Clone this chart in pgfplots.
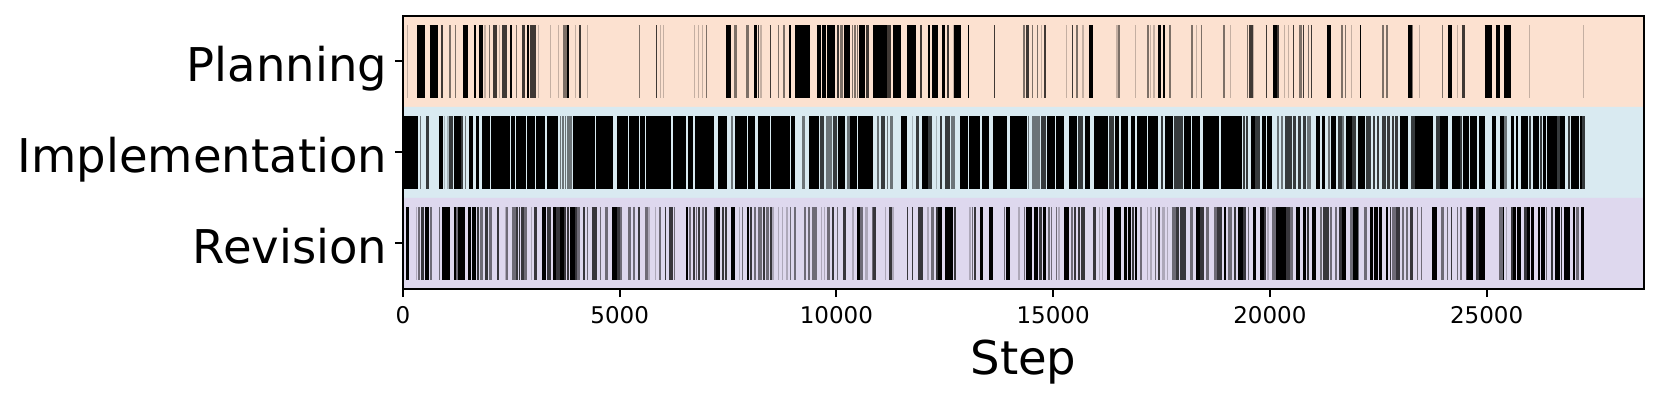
\documentclass[border=0pt]{standalone}
\usepackage{pgfplots}
\usepackage{pgfplotstable}
\usepackage{fontspec}
\setmainfont{DejaVu Sans}
\pgfplotsset{compat=1.18}
\definecolor{pl}{RGB}{252,225,208}
\definecolor{im}{RGB}{217,234,241}
\definecolor{re}{RGB}{222,216,238}
% columns: first step of a run, length of the run in steps, darkness class (4 black ... 1 faint)
\pgfplotstableread{
s w c
93 15 1
331 177 4
615 200 4
869 54 3
1069 38 2
1192 23 2
1377 123 4
1631 46 4
1761 77 4
1877 31 1
1977 31 2
2077 92 3
2207 31 1
2292 108 3
2476 46 4
2599 15 2
2738 77 3
2861 54 4
2922 146 3
3107 23 1
3399 15 1
3584 15 1
3691 85 2
3776 54 4
3961 23 1
4068 38 3
4253 23 1
5437 23 2
5845 15 3
5937 23 1
6006 23 1
6721 15 1
6814 15 1
6906 23 1
6990 15 2
7452 123 4
7644 54 2
7921 62 2
8106 69 4
8190 31 3
8236 38 1
8459 23 3
8644 23 2
8767 38 2
8913 38 4
9051 338 4
9544 100 4
9667 92 4
9775 200 4
10013 46 3
10090 54 2
10182 131 4
10367 23 2
10413 31 2
10467 38 2
10528 131 4
10682 77 3
10843 315 4
11159 100 3
11297 200 4
11628 200 4
11928 54 3
12105 62 4
12205 146 4
12428 77 4
12551 54 3
12681 23 1
12720 146 4
13035 31 4
13635 15 3
14312 31 2
14373 69 3
14504 31 2
14635 23 2
14727 23 1
14781 46 3
15288 23 1
15427 31 3
15534 31 2
15657 46 1
15827 100 4
16457 31 1
16503 31 2
16880 23 1
17164 54 2
17241 23 1
17311 31 1
17426 62 4
17541 46 4
17680 31 2
18187 31 2
18303 15 1
18410 31 2
18925 31 2
19079 15 1
19463 31 2
19509 46 3
19571 31 3
19609 31 1
19902 38 3
20071 85 4
20171 38 3
20332 23 1
20417 23 1
20532 23 3
20671 77 2
20771 23 3
20878 23 2
20940 23 3
21309 92 4
21647 31 2
21732 31 2
21878 23 1
22078 31 4
22593 31 2
22678 38 2
23185 85 4
23270 23 2
23447 15 1
23977 23 2
24108 85 4
24323 23 1
24423 69 3
24954 169 4
25208 108 4
25392 169 4
25984 12 1
27230 12 1
}\planning
\pgfplotstableread{
s w c
0 346 4
392 23 2
538 54 3
823 100 4
946 23 1
1023 31 1
1069 92 3
1177 154 4
1338 54 3
1438 15 2
1523 92 4
1677 85 4
1830 177 4
2023 446 4
2492 92 4
2607 231 4
2861 185 4
3069 208 4
3315 269 4
3622 23 2
3676 31 2
3730 23 2
3776 115 2
3922 508 4
4461 377 4
4945 254 4
5222 215 4
5460 123 4
5606 569 4
6221 308 4
6568 131 4
6729 446 4
7267 200 4
7559 62 2
7652 277 4
7967 154 4
8182 285 4
8490 438 4
8959 77 4
9213 54 2
9375 231 4
9628 77 3
9767 54 2
9836 62 2
9928 77 3
10036 161 4
10251 62 2
10320 146 4
10490 346 4
10928 62 2
11036 92 3
11159 23 2
11236 62 2
11489 146 4
11743 31 1
11835 77 3
11982 138 4
12120 92 3
12305 23 1
12397 31 3
12504 115 3
12635 108 2
12858 169 4
13058 254 4
13366 161 4
13604 323 4
14012 377 4
14427 23 2
14519 177 2
14719 115 3
14850 192 4
15065 185 4
15365 177 4
15580 115 3
15734 108 4
15934 338 4
16288 115 3
16434 77 4
16572 154 4
16795 92 4
16934 223 4
17180 231 4
17480 62 3
17580 192 4
17787 215 3
18018 154 4
18203 185 4
18449 369 4
18871 485 4
19379 46 3
19441 54 3
19564 92 4
19656 108 3
19825 92 4
19933 123 4
20163 46 2
20263 38 2
20348 62 3
20425 92 3
20533 62 3
20656 69 3
20763 77 3
20855 85 2
21055 108 4
21194 77 4
21348 46 2
21409 123 4
21563 92 3
21671 46 2
21763 123 4
21901 77 3
22040 154 4
22209 123 3
22378 46 3
22470 46 3
22593 92 3
22701 62 3
22809 46 3
22886 69 3
22993 200 4
23255 92 3
23347 415 4
23824 92 3
23916 192 4
24208 169 4
24393 31 3
24447 138 4
24616 169 4
24823 146 4
25123 85 4
25308 92 4
25400 62 2
25562 77 4
25677 54 4
25792 161 4
25977 38 3
26061 154 4
26231 46 3
26308 62 4
26384 231 4
26615 77 3
26692 115 4
26869 54 3
26938 46 4
27000 77 4
27092 46 4
27153 46 4
27199 62 3
}\implementation
\pgfplotstableread{
s w c
77 62 4
292 31 1
354 31 2
423 54 3
508 92 4
631 31 2
831 31 2
907 169 4
1169 62 4
1230 38 2
1277 146 4
1500 69 4
1584 108 4
1707 46 3
1784 62 2
1892 62 3
1984 62 2
2169 46 3
2353 15 1
2384 31 2
2507 92 2
2615 46 3
2676 31 3
2730 54 3
2799 62 2
2961 23 1
3030 62 3
3214 77 4
3322 92 3
3461 62 4
3537 77 3
3630 77 4
3722 46 3
3783 38 3
3845 115 4
3968 46 3
4014 62 2
4153 38 3
4245 31 2
4353 123 3
4537 31 2
4652 77 2
4829 108 4
4937 62 3
4999 54 2
5191 62 2
5306 38 2
5414 46 3
5575 77 2
5652 54 1
5806 23 1
5906 54 2
6037 38 3
6129 100 3
6244 23 2
6522 54 4
6598 46 2
6691 46 3
6752 15 2
6798 46 3
6906 46 2
6968 46 3
7167 62 3
7229 92 4
7367 46 3
7429 46 3
7567 85 4
7752 23 1
7829 23 2
7929 54 4
7998 46 3
8106 46 2
8198 92 2
8306 46 3
8383 62 2
8459 46 3
8506 46 1
8659 15 1
8736 31 1
8829 46 1
8936 15 2
9028 46 2
9259 46 2
9336 46 2
9428 46 2
9490 62 2
9644 31 1
9705 31 1
9782 77 2
9890 62 3
10013 31 2
10151 77 3
10351 46 1
10474 62 4
10551 62 2
10659 62 1
10812 31 2
10843 77 3
11120 31 1
11212 77 3
11289 31 1
11628 31 3
11735 31 3
11889 108 3
12089 46 1
12189 54 2
12289 62 3
12351 92 4
12497 115 4
12627 62 4
12704 62 3
13057 46 1
13119 31 2
13180 31 3
13319 62 4
13519 92 4
13873 15 2
13919 92 4
14188 54 1
14319 31 2
14380 138 4
14549 108 4
14672 62 3
14765 77 4
14888 31 2
14957 23 2
15057 31 2
15111 54 1
15257 108 4
15418 38 2
15487 46 3
15564 62 3
15641 92 3
15918 62 3
16057 31 1
16133 15 1
16241 77 4
16395 169 4
16641 62 4
16733 62 4
16826 31 3
16879 54 4
17010 31 2
17164 31 1
17241 31 1
17348 31 2
17410 46 3
17502 69 1
17625 31 1
17733 108 2
17841 62 3
17933 123 3
18148 77 2
18287 108 4
18394 77 3
18517 77 2
18717 62 2
18779 62 3
18856 31 3
18948 31 4
19040 77 2
19163 46 3
19271 108 4
19379 62 3
19487 31 2
19610 77 4
19763 92 4
19871 46 3
19933 46 1
20056 92 2
20148 231 4
20379 77 3
20471 62 2
20594 108 4
20763 77 4
20855 46 3
20963 92 4
21148 46 2
21225 77 3
21302 62 3
21394 31 2
21502 46 2
21594 77 3
21671 77 4
21855 62 2
21917 115 4
22032 23 2
22163 77 2
22301 77 4
22393 92 4
22517 77 4
22686 46 4
22763 38 3
22816 100 2
22916 77 3
23055 46 2
23147 46 2
23224 77 3
23393 31 2
23485 31 2
23747 108 4
23955 62 2
24085 31 2
24178 23 3
24316 23 2
24393 31 2
24516 31 3
24547 138 4
24762 62 3
24823 138 4
25292 92 2
25385 23 4
25439 23 1
25562 54 3
25615 62 4
25708 92 4
25861 62 3
25938 54 4
26023 77 4
26184 46 4
26254 100 4
26369 31 2
26484 54 3
26569 123 4
26707 15 3
26784 138 4
26984 62 4
27061 62 2
27184 62 4
}\revision
\newcommand{\runs}[4]{%
  \addplot[draw=none,mark=none,forget plot,
    error bars/.cd,x dir=plus,x explicit,error mark=none,
    error bar style={draw=black,solid,line cap=butt,line width=26.28pt,opacity=#4}]
    table[x expr={\thisrow{c}==#3 ? \thisrow{s} : nan},y expr=#2,x error=w]{#1};}
\newcommand{\allruns}[2]{\runs{#1}{#2}{1}{0.22}\runs{#1}{#2}{2}{0.5}\runs{#1}{#2}{3}{0.75}\runs{#1}{#2}{4}{1}}
\begin{document}
\begin{tikzpicture}
\useasboundingbox (0,0) rectangle (597.6pt,144pt);
\begin{axis}[
  at={(145.08pt,39.96pt)},anchor=south west,
  scale only axis,width=446.8pt,height=98.3pt,
  xmin=0,xmax=28634,ymin=-0.5,ymax=2.5,
  axis line style={line width=0.72pt},
  tick style={line width=0.72pt,black},
  tickwidth=2.9pt,
  tick align=outside,
  xtick pos=bottom,ytick pos=left,
  xtick={0,5000,10000,15000,20000,25000},
  ytick={0,1,2},
  yticklabels={Revision,Implementation,Planning},
  /pgf/number format/assume math mode=true,
  /pgf/number format/1000 sep={},
  scaled x ticks=false,
  x tick label style={font=\fontsize{8.28}{10}\selectfont},
  y tick label style={font=\fontsize{16.75}{20}\selectfont,text height=14.4pt,text depth=0pt,xshift=0.76pt},
  xlabel={Step},
  xlabel style={font=\fontsize{16.75}{20}\selectfont,yshift=1.1pt},
  axis on top,
  clip=true,
]
\addplot[fill=pl,draw=none,forget plot] coordinates {(0,1.5)(28634,1.5)(28634,2.5)(0,2.5)} \closedcycle;
\addplot[fill=im,draw=none,forget plot] coordinates {(0,0.5)(28634,0.5)(28634,1.5)(0,1.5)} \closedcycle;
\addplot[fill=re,draw=none,forget plot] coordinates {(0,-0.5)(28634,-0.5)(28634,0.5)(0,0.5)} \closedcycle;
\allruns{\planning}{2}
\allruns{\implementation}{1}
\allruns{\revision}{0}
\end{axis}
\end{tikzpicture}
\end{document}
